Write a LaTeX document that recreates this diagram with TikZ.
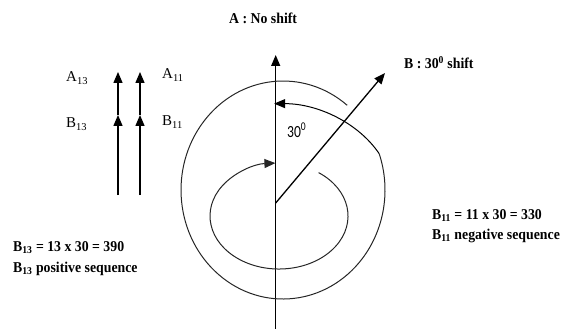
\documentclass[tikz,border=0pt]{standalone}
\usepackage{fontspec}
\setmainfont{Liberation Serif}
\newfontfamily\lbl[FakeStretch=0.92]{Liberation Serif}
\newfontfamily\calib{Carlito}
\usepackage{graphicx}
\usetikzlibrary{arrows.meta}
\tikzset{
  vec/.style={line width=1.3pt, -{Triangle[length=11pt,width=9pt]}},
  spiral/.style={line width=1pt, draw=black!85},
  btxt/.style={font=\lbl\bfseries\fontsize{15}{18}\selectfont, anchor=base west, inner sep=0pt},
  rtxt/.style={font=\fontsize{15}{18}\selectfont, anchor=base west, inner sep=0pt},
}
\begin{document}
\begin{tikzpicture}[x=1pt,y=1pt]
\useasboundingbox (0,0) rectangle (563,-329);
% axis and B vector
\coordinate (O) at (275.7,-203);
\coordinate (Atop) at (275.7,-55);
\coordinate (Abot) at (275.7,-329);
\coordinate (Btip) at (385,-73);
\draw[vec] (Abot) -- (Atop);
\draw[vec] (O) -- (Btip);
% outer spiral with arrow
\coordinate (S1) at (347.2,-105.3);
\draw[spiral] (S1) arc[start angle=51,end angle=379.5,x radius=102,y radius=109]
  coordinate (K1);
\draw[spiral, draw=black, -{Triangle[length=11pt,width=9pt]}] (K1)
  arc[start angle=28.5,end angle=90,x radius=119.5,y radius=95.6];
% inner spiral with arrow
\coordinate (S2) at (318.6,-172.6);
\draw[spiral, -{Triangle[length=11pt,width=9pt]}] (S2)
  arc[start angle=55,end angle=-267,x radius=69,y radius=53];
% left phasors
\coordinate (L1b) at (118,-195); \coordinate (L1m) at (118,-115); \coordinate (L1t) at (118,-72);
\coordinate (L2b) at (140,-195); \coordinate (L2m) at (140,-115); \coordinate (L2t) at (140,-72);
\draw[vec] (L1b) -- (L1m); \draw[vec] (L1m) -- (L1t);
\draw[vec] (L2b) -- (L2m); \draw[vec] (L2m) -- (L2t);
% labels
\node[btxt] (tA) at (229,-24) {A : No shift};
\node[btxt] (tB) at (404,-69) {B : 30\textsuperscript{0} shift};
\node[rtxt] (a13) at (66,-82) {A\textsubscript{13}};
\node[rtxt] (b13) at (66,-128) {B\textsubscript{13}};
\node[rtxt] (a11) at (162,-79) {A\textsubscript{11}};
\node[rtxt] (b11) at (162,-126) {B\textsubscript{11}};
\node[font=\calib\fontsize{17}{20}\selectfont, anchor=base west, inner sep=0pt] (ang) at (287,-137) {\scalebox{0.8}[1]{30\textsuperscript{0}}};
\node[btxt] (l1) at (13,-251.5) {B\textsubscript{13} = 13 x 30 = 390};
\node[btxt] (l2) at (13,-272) {B\textsubscript{13} positive sequence};
\node[btxt] (r1) at (432,-219) {B\textsubscript{11} = 11 x 30 = 330};
\node[btxt] (r2) at (432,-239) {B\textsubscript{11} negative sequence};
\end{tikzpicture}
\end{document}
